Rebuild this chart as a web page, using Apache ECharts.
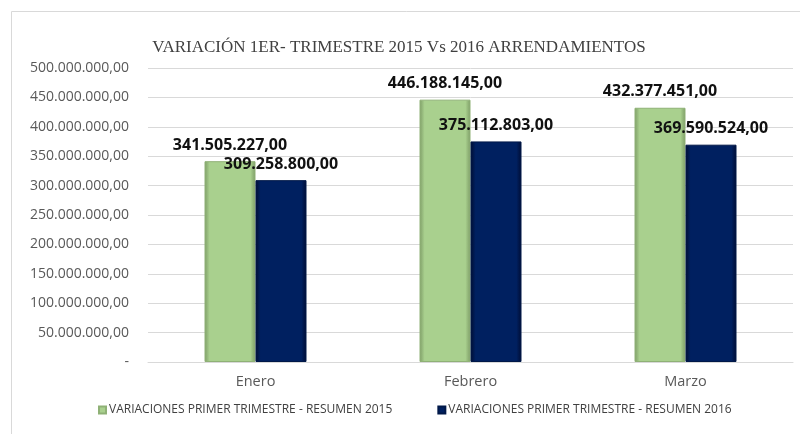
<!DOCTYPE html>
<html><head><meta charset="utf-8">
<script src="https://cdn.jsdelivr.net/npm/echarts@6/dist/echarts.min.js"></script>
<style>html,body{margin:0;padding:0;background:#fff}#c{width:800px;height:434px}</style>
</head><body><div id="c"></div>
<script>
const categories = ['Enero', 'Febrero', 'Marzo'];
const series2015 = [341505227, 446188145, 432377451];
const series2016 = [309258800, 375112803, 369590524];
const seriesNames = ['VARIACIONES PRIMER TRIMESTRE - RESUMEN 2015', 'VARIACIONES PRIMER TRIMESTRE - RESUMEN 2016'];
const titleText = 'VARIACIÓN 1ER- TRIMESTRE 2015 Vs 2016 ARRENDAMIENTOS';

function fmt(v) {
  const s = Math.round(v).toString().replace(/\B(?=(\d{3})+(?!\d))/g, '.');
  return s + ',00';
}
function grad(edge, mid) {
  return new echarts.graphic.LinearGradient(0, 0, 1, 0, [
    {offset: 0, color: edge}, {offset: 0.1, color: mid}, {offset: 0.9, color: mid}, {offset: 1, color: edge}
  ]);
}
const chart = echarts.init(document.getElementById('c'), null, {renderer: 'canvas'});
const labelStyle = {
  show: true, position: 'top', distance: 8,
  fontFamily: 'Open Sans', fontWeight: 'bold', fontSize: 16, color: '#111',
  formatter: p => fmt(p.value)
};
chart.setOption({
  animation: false,
  graphic: [{type: 'rect', shape: {x: 11.5, y: 11.5, width: 800, height: 440}, style: {fill: 'none', stroke: '#d9d9d9', lineWidth: 1}, z: -1}],
  title: {
    text: titleText, left: 394, top: 34, textAlign: 'center',
    textStyle: {fontFamily: 'Liberation Serif', fontWeight: 'normal', fontSize: 17, color: '#404040'}
  },
  legend: {
    bottom: 13, left: 93, itemWidth: 7, itemHeight: 7, itemGap: 45, icon: 'rect',
    textStyle: {fontFamily: 'Open Sans', fontSize: 12, color: '#404040', padding: [0, 0, 0, -2]},
    data: seriesNames
  },
  grid: {left: 148, right: 7, top: 68, bottom: 72, containLabel: false},
  xAxis: {
    type: 'category', data: categories,
    axisLine: {show: true, lineStyle: {color: '#d9d9d9'}}, axisTick: {show: false},
    axisLabel: {fontFamily: 'Open Sans', fontSize: 14.5, color: '#595959', margin: 12}
  },
  yAxis: {
    type: 'value', min: 0, max: 500000000, interval: 50000000,
    axisLine: {show: false}, axisTick: {show: false},
    splitLine: {lineStyle: {color: '#d9d9d9'}},
    axisLabel: {fontFamily: 'Open Sans', fontSize: 14, color: '#595959', margin: 19,
      formatter: v => v === 0 ? '-' : fmt(v)}
  },
  series: [
    {name: seriesNames[0], type: 'bar', data: series2015, barWidth: 51, barGap: '0%',
      itemStyle: {color: grad('#7d9c66', '#a9d08e'), borderColor: '#8fb176', borderWidth: 1},
      label: labelStyle},
    {name: seriesNames[1], type: 'bar', data: series2016, barWidth: 51,
      itemStyle: {color: grad('#000c33', '#002060'), borderColor: '#001848', borderWidth: 1},
      label: labelStyle}
  ]
});
</script></body></html>
